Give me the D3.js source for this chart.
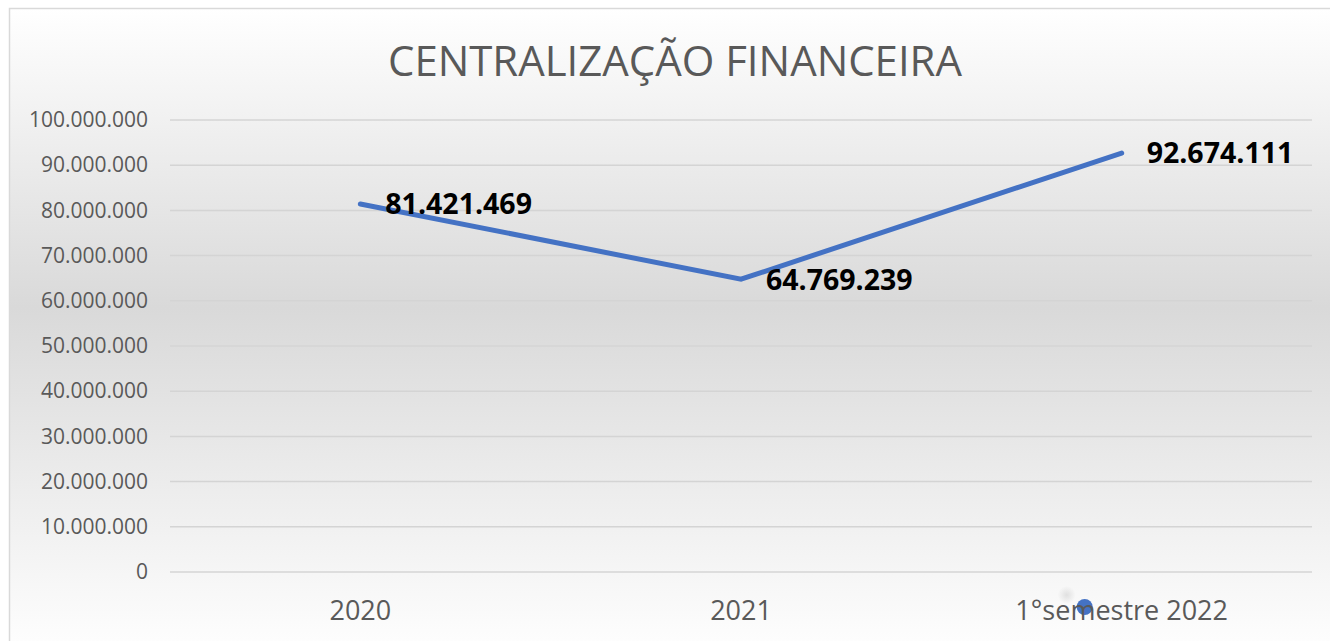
<!DOCTYPE html>
<html><head><meta charset="utf-8">
<script src="https://cdn.jsdelivr.net/npm/d3@7"></script>
<style>html,body{margin:0;padding:0;background:#fff;overflow:hidden}</style>
</head><body>
<script>
const categories = ["2020", "2021", "1°semestre 2022"];
const values = [81421469, 64769239, 92674111];
const valueLabels = ["81.421.469", "64.769.239", "92.674.111"];
const yTicks = [0, 10000000, 20000000, 30000000, 40000000, 50000000, 60000000, 70000000, 80000000, 90000000, 100000000];
const title = "CENTRALIZAÇÃO FINANCEIRA";

(function () {
const W = 1330, H = 641;
const svg = d3.select("body").append("svg").attr("width", W).attr("height", H);
const defs = svg.append("defs");
const g = defs.append("linearGradient").attr("id", "bg").attr("x1", 0).attr("y1", 0).attr("x2", 0).attr("y2", 1);
g.append("stop").attr("offset", "0").attr("stop-color", "#ffffff");
g.append("stop").attr("offset", "0.46").attr("stop-color", "#d9d9d9");
g.append("stop").attr("offset", "1").attr("stop-color", "#ffffff");
const rg = defs.append("radialGradient").attr("id", "ghost");
rg.append("stop").attr("offset", "0").attr("stop-color", "#d0d0d0").attr("stop-opacity", 0.6);
rg.append("stop").attr("offset", "1").attr("stop-color", "#d0d0d0").attr("stop-opacity", 0);

svg.append("rect").attr("x", 9.5).attr("y", 8.5).attr("width", 1340).attr("height", 650)
  .attr("fill", "url(#bg)").attr("stroke", "#d9d9d9").attr("stroke-width", 1.5);

const mLeft = 170, mRight = 1312, mTop = 120, mBottom = 572;
const x = d3.scaleBand().domain(categories).range([mLeft, mRight]);
const y = d3.scaleLinear().domain([0, 100000000]).range([mBottom, mTop]);
const fmt = v => v === 0 ? "0" : d3.format(",")(v).replace(/,/g, ".");
const cx = (d, i) => x(categories[i]) + x.bandwidth() / 2;

// gridlines
svg.append("g").selectAll("line").data(yTicks).join("line")
  .attr("x1", mLeft).attr("x2", mRight)
  .attr("y1", d => y(d)).attr("y2", d => y(d))
  .attr("stroke", "#d4d4d4").attr("stroke-width", 1.5);

// stray marker near the last category label (behind the label text)
svg.append("circle").attr("cx", cx(null, 2) - 55).attr("cy", 595).attr("r", 9).attr("fill", "url(#ghost)");
svg.append("circle").attr("cx", cx(null, 2) - 37).attr("cy", 607).attr("r", 8).attr("fill", "#4472c4");

// y axis labels
const yAxis = svg.append("g").attr("transform", `translate(${mLeft},0)`)
  .call(d3.axisLeft(y).tickValues(yTicks).tickFormat(fmt).tickSize(0).tickPadding(22));
yAxis.select(".domain").remove();
yAxis.selectAll("text").attr("font-family", "'Open Sans', sans-serif").attr("font-size", 21).attr("fill", "#595959");

// x axis labels
const xAxis = svg.append("g").attr("transform", `translate(0,${mBottom})`)
  .call(d3.axisBottom(x).tickSize(0).tickPadding(29));
xAxis.select(".domain").remove();
xAxis.selectAll("text").attr("font-family", "'Open Sans', sans-serif").attr("font-size", 27).attr("fill", "#595959");

// title
svg.append("text").attr("x", 675).attr("y", 76).attr("text-anchor", "middle")
  .attr("font-family", "'Open Sans', sans-serif").attr("font-size", 42).attr("fill", "#595959")
  .attr("textLength", 574).attr("lengthAdjust", "spacingAndGlyphs")
  .text(title);

// line
const line = d3.line().x((d, i) => cx(d, i)).y(d => y(d));
svg.append("path").datum(values).attr("d", line).attr("fill", "none")
  .attr("stroke", "#4472c4").attr("stroke-width", 5).attr("stroke-linecap", "round").attr("stroke-linejoin", "miter");

// data labels
svg.append("g").selectAll("text").data(values).join("text")
  .attr("x", (d, i) => cx(d, i) + 25).attr("y", d => y(d)).attr("dy", "0.36em")
  .attr("font-family", "'Open Sans', sans-serif").attr("font-weight", "bold").attr("font-size", 28.5).attr("fill", "#000")
  .text((d, i) => valueLabels[i]);
})();
</script>
</body></html>
